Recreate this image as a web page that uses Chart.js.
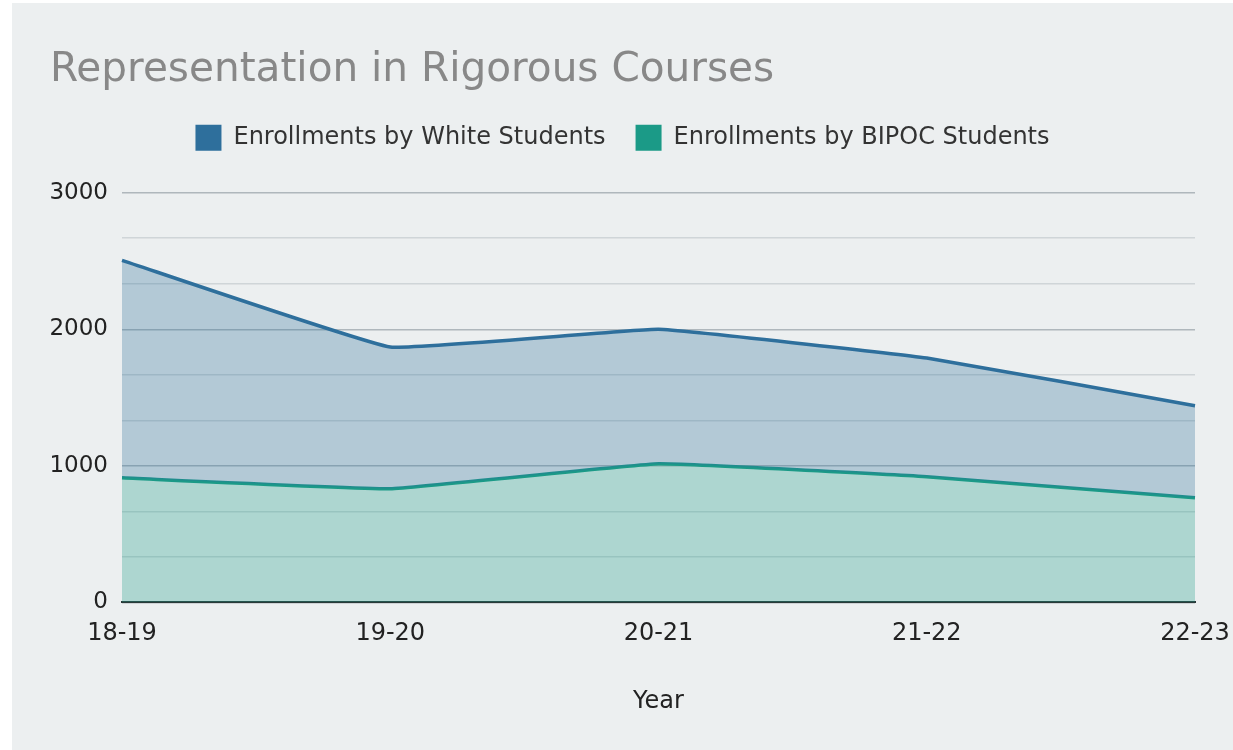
<!DOCTYPE html>
<html>
<head>
<meta charset="utf-8">
<script src="https://cdn.jsdelivr.net/npm/chart.js@4.4.0/dist/chart.umd.min.js"></script>
<style>
  html, body { margin: 0; padding: 0; background: #ffffff; }
  #wrap { position: absolute; left: 12px; top: 3px; width: 1221px; height: 747px; background: #ECEFF0; }
  canvas { display: block; }
</style>
</head>
<body>
<div id="wrap"><canvas id="c" width="1221" height="747"></canvas></div>
<script>
const categories = ['18-19', '19-20', '20-21', '21-22', '22-23'];
const whiteEnrollments = [2505, 1870, 2000, 1790, 1440];
const bipocEnrollments = [912, 832, 1015, 920, 766];
const seriesLabels = ['Enrollments by White Students', 'Enrollments by BIPOC Students'];
const titleText = 'Representation in Rigorous Courses';
const xAxisTitle = 'Year';

const FONT = "'DejaVu Sans', Verdana, sans-serif";
const isMajor = v => Math.abs(v / 1000 - Math.round(v / 1000)) < 1e-6;

const legendGap = {
  id: 'legendGap',
  beforeLayout(chart) {
    const lg = chart.legend;
    if (lg && !lg._gapPatched) {
      const fit = lg.fit;
      lg.fit = function () { fit.call(this); this.height += 32; };
      lg._gapPatched = true;
    }
  }
};

new Chart(document.getElementById('c'), {
  type: 'line',
  data: {
    labels: categories,
    datasets: [
      {
        label: seriesLabels[0],
        data: whiteEnrollments,
        borderColor: '#2E6F9C',
        backgroundColor: 'rgba(46,111,156,0.30)',
        fill: 1,
        borderWidth: 3.5,
        pointRadius: 0,
        tension: 0.08
      },
      {
        label: seriesLabels[1],
        data: bipocEnrollments,
        borderColor: '#1B9A87',
        backgroundColor: 'rgba(27,154,135,0.30)',
        fill: 'origin',
        borderWidth: 3.5,
        pointRadius: 0,
        tension: 0.08
      }
    ]
  },
  plugins: [legendGap],
  options: {
    responsive: false,
    animation: false,
    layout: { padding: { left: 38, right: 38, top: 43, bottom: 34 } },
    plugins: {
      title: {
        display: true,
        text: titleText,
        align: 'start',
        color: '#888888',
        font: { family: FONT, size: 40.6, weight: 'normal', lineHeight: 1.2 },
        padding: { top: 0, bottom: 0 }
      },
      legend: {
        display: true,
        labels: {
          color: '#333333',
          font: { family: FONT, size: 24 },
          boxWidth: 26,
          boxHeight: 26,
          padding: 30,
          generateLabels: chart => chart.data.datasets.map((d, i) => ({
            text: d.label,
            fillStyle: d.borderColor,
            strokeStyle: d.borderColor,
            lineWidth: 0,
            hidden: false,
            datasetIndex: i,
            fontColor: '#333333'
          }))
        }
      },
      tooltip: { enabled: false }
    },
    scales: {
      x: {
        offset: false,
        afterFit: s => { s.paddingRight = 0; s.paddingLeft = 0; },
        grid: { display: false, drawTicks: false },
        border: { display: true, color: '#2a3636', width: 2 },
        ticks: { color: '#222', font: { family: FONT, size: 24 }, padding: 17, maxRotation: 0 },
        title: { display: true, text: xAxisTitle, color: '#222', font: { family: FONT, size: 24 }, padding: { top: 22, bottom: 0 } }
      },
      y: {
        min: 0,
        max: 3000,
        afterFit: s => { s.width = 72; },
        grid: {
          drawTicks: false,
          lineWidth: 1.5,
          color: ctx => (ctx.tick && isMajor(ctx.tick.value)) ? 'rgba(150,160,165,0.7)' : 'rgba(195,202,205,0.7)'
        },
        border: { display: false },
        ticks: {
          stepSize: 1000 / 3,
          color: '#222',
          font: { family: FONT, size: 23 },
          padding: 14,
          callback: v => isMajor(v) ? String(Math.round(v)) : ''
        }
      }
    }
  }
});
</script>
</body>
</html>
